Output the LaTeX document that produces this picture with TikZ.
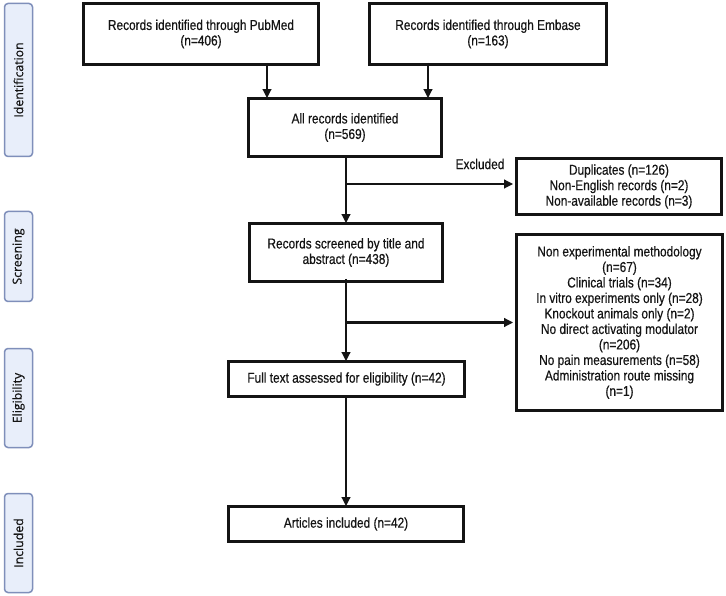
\documentclass[tikz,border=0pt]{standalone}
\usepackage{fontspec}
\setmainfont[FakeStretch=0.83,FakeBold=0.5]{Liberation Sans}
\newfontfamily\sidefont[FakeBold=0.5]{Open Sans}
\usetikzlibrary{arrows.meta,calc}
\definecolor{sidefill}{HTML}{E8EEFA}
\definecolor{sidedraw}{HTML}{7F8FBA}
\definecolor{ink}{HTML}{141414}
\tikzset{
  box/.style={draw=ink, line width=2.7pt, align=center, inner sep=2pt,
    font=\fontsize{14.3}{15.5}\selectfont, text=ink},
  side/.style={draw=sidedraw, fill=sidefill, line width=1.5pt, rounded corners=3.5pt,
    minimum width=28pt, inner sep=0pt},
  sidetext/.style={rotate=90, font=\sidefont\fontsize{12.3}{14}\selectfont, text=ink},
  arr/.style={draw=ink, line width=2.1pt, -{Triangle[length=9pt,width=8.5pt]}},
  lbl/.style={font=\fontsize{14.3}{15}\selectfont, text=ink}
}
\begin{document}
\begin{tikzpicture}[x=1pt,y=-1pt]
\useasboundingbox (0,0) rectangle (726,596);
% side labels
\node[side, minimum height=153pt] (sid) at (18.5,80) {};
\node[sidetext] (tid) at (sid.center) {Identification};
\node[side, minimum height=90pt] (ssc) at (18.5,256.5) {};
\node[sidetext] (tsc) at (ssc.center) {Screening};
\node[side, minimum height=99pt] (sel) at (18.5,398) {};
\node[sidetext] (tel) at (sel.center) {Eligibility};
\node[side, minimum height=99pt] (sin) at (18.5,543) {};
\node[sidetext] (tin) at (sin.center) {Included};
% boxes
\node[box, minimum width=235pt, minimum height=61pt] (pub) at (201,34) {Records identified through PubMed\\(n=406)};
\node[box, minimum width=237pt, minimum height=61pt] (emb) at (488,34) {Records identified through Embase\\(n=163)};
\node[box, minimum width=193pt, minimum height=58pt] (all) at (345,127.5) {All records identified\\(n=569)};
\node[box, minimum width=205pt, minimum height=56pt] (dup) at (619,186.5) {Duplicates (n=126)\\Non-English records (n=2)\\Non-available records (n=3)};
\node[box, minimum width=193pt, minimum height=58pt] (scr) at (346,252.5) {Records screened by title and\\abstract (n=438)};
\node[box, minimum width=206pt, minimum height=176pt] (exc) at (619.5,322.5) {Non experimental methodology\\(n=67)\\Clinical trials (n=34)\\In vitro experiments only (n=28)\\Knockout animals only (n=2)\\No direct activating modulator\\(n=206)\\No pain measurements (n=58)\\Administration route missing\\(n=1)};
\node[box, minimum width=236pt, minimum height=35pt] (ful) at (346.5,379) {Full text assessed for eligibility (n=42)};
\node[box, minimum width=235pt, minimum height=35pt] (art) at (346,524) {Articles included (n=42)};
\node[lbl] (exl) at (480,164) {Excluded};
% connectors
\coordinate (c1) at ([xshift=66pt,yshift=3pt]pub.south);
\coordinate (c2) at ([xshift=-60pt,yshift=3pt]emb.south);
\draw[arr] (c1) -- ([yshift=-1pt]c1 |- all.north);
\draw[arr] (c2) -- ([yshift=-1pt]c2 |- all.north);
\coordinate (m1) at ([xshift=1pt]all.south);
\draw[arr] (m1) -- ([yshift=-1pt]m1 |- scr.north);
\draw[arr] ([yshift=2.5pt]m1 |- dup.west) -- ([xshift=-2pt,yshift=2.5pt]dup.west);
\coordinate (m2) at ([yshift=4pt]scr.south);
\draw[arr] (m2) -- ([yshift=-1pt]m2 |- ful.north);
\draw[arr] (m2 |- exc.west) -- ([xshift=-2pt]exc.west);
\coordinate (m3) at ([xshift=-0.5pt]ful.south);
\draw[arr] (m3) -- ([yshift=-1pt]m3 |- art.north);
\end{tikzpicture}
\end{document}
